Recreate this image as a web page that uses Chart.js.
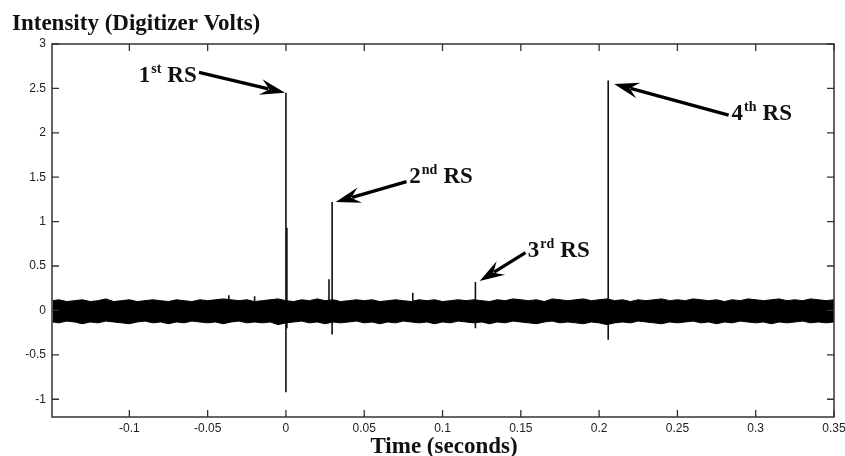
<!DOCTYPE html>
<html>
<head>
<meta charset="utf-8">
<script src="https://cdn.jsdelivr.net/npm/chart.js@4.4.0/dist/chart.umd.min.js"></script>
<style>
  html, body { margin: 0; padding: 0; background: #fff; }
  #wrap { width: 845px; height: 456px; position: relative; }
</style>
</head>
<body>
<div id="wrap"><canvas id="rsChart"></canvas></div>
<script>
// axis ticks
const xTicks = [-0.1, -0.05, 0, 0.05, 0.1, 0.15, 0.2, 0.25, 0.3, 0.35];
const yTicks = [-1, -0.5, 0, 0.5, 1, 1.5, 2, 2.5, 3];

// noise band envelope
const noiseTime = [-0.149,
  -0.145, -0.14, -0.135, -0.13, -0.125, -0.12, -0.115, -0.11, -0.105, -0.1,
  -0.095, -0.09, -0.085, -0.08, -0.075, -0.07, -0.065, -0.06, -0.055, -0.05,
  -0.045, -0.04, -0.035, -0.03, -0.025, -0.02, -0.015, -0.01, -0.005, 0,
  0.005, 0.01, 0.015, 0.02, 0.025, 0.03, 0.035, 0.04, 0.045, 0.05,
  0.055, 0.06, 0.065, 0.07, 0.075, 0.08, 0.085, 0.09, 0.095, 0.1,
  0.105, 0.11, 0.115, 0.12, 0.125, 0.13, 0.135, 0.14, 0.145, 0.15,
  0.155, 0.16, 0.165, 0.17, 0.175, 0.18, 0.185, 0.19, 0.195, 0.2,
  0.205, 0.21, 0.215, 0.22, 0.225, 0.23, 0.235, 0.24, 0.245, 0.25,
  0.255, 0.26, 0.265, 0.27, 0.275, 0.28, 0.285, 0.29, 0.295, 0.3,
  0.305, 0.31, 0.315, 0.32, 0.325, 0.33, 0.335, 0.34, 0.345, 0.35];
const noiseUpper = [0.11,
  0.12, 0.10, 0.11, 0.12, 0.10, 0.11, 0.13, 0.10, 0.11, 0.12,
  0.10, 0.11, 0.12, 0.11, 0.10, 0.12, 0.11, 0.10, 0.12, 0.11,
  0.12, 0.13, 0.12, 0.11, 0.12, 0.10, 0.11, 0.12, 0.13, 0.11,
  0.10, 0.12, 0.11, 0.13, 0.11, 0.12, 0.10, 0.11, 0.12, 0.11,
  0.12, 0.10, 0.11, 0.12, 0.11, 0.10, 0.12, 0.11, 0.12, 0.10,
  0.11, 0.12, 0.11, 0.12, 0.11, 0.10, 0.12, 0.11, 0.13, 0.12,
  0.11, 0.12, 0.10, 0.13, 0.12, 0.11, 0.12, 0.13, 0.11, 0.12,
  0.13, 0.11, 0.12, 0.10, 0.12, 0.11, 0.12, 0.13, 0.11, 0.12,
  0.11, 0.13, 0.12, 0.11, 0.12, 0.10, 0.12, 0.11, 0.13, 0.12,
  0.11, 0.12, 0.13, 0.11, 0.12, 0.11, 0.13, 0.12, 0.11, 0.12];
const noiseLower = [-0.13,
  -0.14, -0.12, -0.13, -0.15, -0.13, -0.14, -0.12, -0.13, -0.14, -0.15,
  -0.13, -0.12, -0.14, -0.13, -0.15, -0.13, -0.14, -0.12, -0.13, -0.14,
  -0.13, -0.15, -0.13, -0.12, -0.14, -0.13, -0.14, -0.13, -0.16, -0.14,
  -0.13, -0.12, -0.14, -0.13, -0.15, -0.13, -0.14, -0.13, -0.12, -0.14,
  -0.13, -0.15, -0.13, -0.14, -0.12, -0.13, -0.14, -0.13, -0.15, -0.13,
  -0.14, -0.12, -0.13, -0.14, -0.13, -0.15, -0.13, -0.14, -0.12, -0.13,
  -0.14, -0.15, -0.13, -0.12, -0.14, -0.13, -0.14, -0.15, -0.13, -0.14,
  -0.16, -0.14, -0.13, -0.14, -0.12, -0.13, -0.14, -0.15, -0.13, -0.14,
  -0.13, -0.12, -0.14, -0.13, -0.15, -0.13, -0.14, -0.12, -0.13, -0.14,
  -0.13, -0.15, -0.13, -0.14, -0.13, -0.12, -0.14, -0.13, -0.14, -0.13];

// spikes (time, top, bottom)
const spikeTime = [-0.0365, -0.02, 0, 0.0006, 0.0275, 0.0295, 0.081, 0.121, 0.2058];
const spikeHigh = [0.17, 0.16, 2.45, 0.93, 0.35, 1.22, 0.2, 0.32, 2.59];
const spikeLow = [0, 0, -0.92, -0.2, 0, -0.27, 0, -0.2, -0.33];

// RS labels: text position and arrow (data units)
const rsNumber = ["1", "2", "3", "4"];
const rsSuffix = ["st", "nd", "rd", "th"];
const rsTextX = [-0.094, 0.0788, 0.1545, 0.2846];
const rsTextY = [2.57, 1.43, 0.6, 2.14];
const rsTailX = [-0.0555, 0.077, 0.153, 0.2827];
const rsTailY = [2.68, 1.45, 0.65, 2.2];
const rsTipX = [-0.0006, 0.0318, 0.1237, 0.2096];
const rsTipY = [2.45, 1.22, 0.33, 2.55];

const spikePoints = [];
spikeTime.forEach((t, i) => {
    spikePoints.push({ x: t, y: spikeLow[i] });
    spikePoints.push({ x: t, y: spikeHigh[i] });
    spikePoints.push({ x: t, y: null });
});

const serif = "'Liberation Serif', 'Times New Roman', serif";
const sans = "'Liberation Sans', Arial, sans-serif";

const framePlugin = {
    id: "frame",
    afterDraw(chart) {
        const { ctx, chartArea: a, scales } = chart;
        ctx.save();
        ctx.strokeStyle = "#333";
        ctx.lineWidth = 1.5;
        ctx.strokeRect(a.left, a.top, a.right - a.left, a.bottom - a.top);
        ctx.lineWidth = 1.3;
        ctx.beginPath();
        xTicks.forEach((v) => {
            const px = scales.x.getPixelForValue(v);
            ctx.moveTo(px, a.bottom); ctx.lineTo(px, a.bottom - 7);
            ctx.moveTo(px, a.top); ctx.lineTo(px, a.top + 7);
        });
        yTicks.forEach((v) => {
            const py = scales.y.getPixelForValue(v);
            ctx.moveTo(a.left, py); ctx.lineTo(a.left + 7, py);
            ctx.moveTo(a.right, py); ctx.lineTo(a.right - 7, py);
        });
        ctx.stroke();

        // titles
        ctx.fillStyle = "#111";
        ctx.font = "bold 23px " + serif;
        ctx.textBaseline = "alphabetic";
        ctx.textAlign = "left";
        ctx.fillText("Intensity (Digitizer Volts)", 12, 30);
        ctx.textAlign = "center";
        ctx.fillText("Time (seconds)", 444, 453);

        // RS annotations
        ctx.textAlign = "left";
        rsNumber.forEach((n, i) => {
            let x = scales.x.getPixelForValue(rsTextX[i]);
            const y = scales.y.getPixelForValue(rsTextY[i]);
            ctx.font = "bold 23px " + serif;
            ctx.fillText(n, x, y);
            x += ctx.measureText(n).width + 1;
            ctx.font = "bold 14px " + serif;
            ctx.fillText(rsSuffix[i], x, y - 9);
            x += ctx.measureText(rsSuffix[i]).width + 6;
            ctx.font = "bold 23px " + serif;
            ctx.fillText("RS", x, y);

            const x0 = scales.x.getPixelForValue(rsTailX[i]);
            const y0 = scales.y.getPixelForValue(rsTailY[i]);
            const x1 = scales.x.getPixelForValue(rsTipX[i]);
            const y1 = scales.y.getPixelForValue(rsTipY[i]);
            const ang = Math.atan2(y1 - y0, x1 - x0);
            const c = Math.cos(ang), s = Math.sin(ang);
            const len = 22, half = 8;
            const bx = x1 - len * c, by = y1 - len * s;
            ctx.strokeStyle = "#000";
            ctx.lineWidth = 3.3;
            ctx.beginPath();
            ctx.moveTo(x0, y0);
            ctx.lineTo(bx + 5 * c, by + 5 * s);
            ctx.stroke();
            ctx.fillStyle = "#000";
            ctx.beginPath();
            ctx.moveTo(x1, y1);
            ctx.lineTo(bx - half * s - 3 * c, by + half * c - 3 * s);
            ctx.lineTo(bx + 6 * c, by + 6 * s);
            ctx.lineTo(bx + half * s - 3 * c, by - half * c - 3 * s);
            ctx.closePath();
            ctx.fill();
            ctx.fillStyle = "#111";
        });
        ctx.restore();
    },
};

new Chart(document.getElementById("rsChart"), {
    type: "line",
    data: {
        datasets: [
            {
                label: "upper",
                data: noiseTime.map((t, i) => ({ x: t, y: noiseUpper[i] })),
                borderColor: "#000",
                backgroundColor: "#000",
                borderWidth: 1,
                pointRadius: 0,
                fill: "+1",
            },
            {
                label: "lower",
                data: noiseTime.map((t, i) => ({ x: t, y: noiseLower[i] })),
                borderColor: "#000",
                borderWidth: 1,
                pointRadius: 0,
                fill: false,
            },
            {
                label: "spikes",
                data: spikePoints,
                borderColor: "#111",
                borderWidth: 1.6,
                pointRadius: 0,
                spanGaps: false,
                fill: false,
            },
        ],
    },
    options: {
        responsive: true,
        maintainAspectRatio: false,
        animation: false,
        layout: { padding: { top: 44, right: 11, left: 0, bottom: 0 } },
        plugins: { legend: { display: false }, tooltip: { enabled: false } },
        scales: {
            x: {
                type: "linear",
                min: -0.1494,
                max: 0.35,
                afterBuildTicks: (s) => { s.ticks = xTicks.map((v) => ({ value: v })); },
                afterFit: (s) => {
                    s.height = 39;
                    s.paddingLeft = 0;
                    s.paddingRight = 0;
                },
                grid: { display: false, drawTicks: false },
                border: { display: false },
                ticks: {
                    padding: 4,
                    color: "#222",
                    font: { family: sans, size: 12 },
                    maxRotation: 0,
                    autoSkip: false,
                    callback: (v) => String(v),
                },
            },
            y: {
                type: "linear",
                min: -1.2,
                max: 3,
                afterBuildTicks: (s) => { s.ticks = yTicks.map((v) => ({ value: v })); },
                afterFit: (s) => { s.width = 52; },
                grid: { display: false, drawTicks: false },
                border: { display: false },
                ticks: {
                    padding: 6,
                    color: "#222",
                    font: { family: sans, size: 12 },
                    autoSkip: false,
                    callback: (v) => String(v),
                },
            },
        },
    },
    plugins: [framePlugin],
});
</script>
</body>
</html>
